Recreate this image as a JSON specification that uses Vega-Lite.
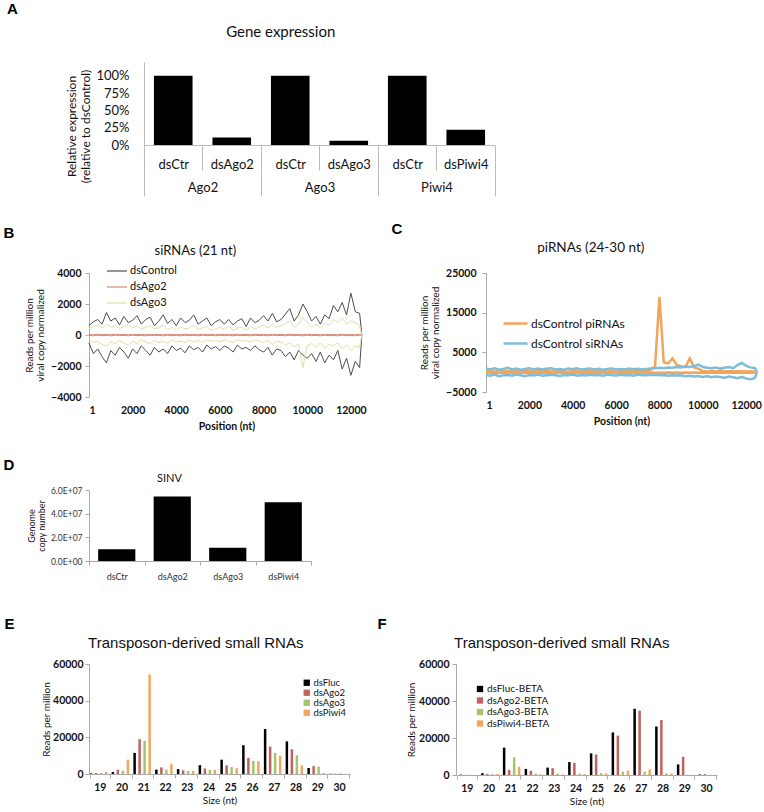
{
"$schema": "https://vega.github.io/schema/vega-lite/v6.json",
"background": "white",
"padding": {"left": 3, "top": 2, "right": 0, "bottom": 0},
"config": {
  "view": {"stroke": null},
  "font": "Lato",
  "axis": {"labelFont": "Lato", "titleFont": "Lato", "labelColor": "#111", "titleColor": "#111", "domainColor": "#aaaaaa", "tickColor": "#aaaaaa", "grid": false, "titleFontWeight": "normal", "labelOverlap": false},
  "legend": {"labelFont": "Lato", "labelColor": "#111"},
  "title": {"font": "Lato", "color": "#111", "fontWeight": "normal"}
},
"columns": 1, "align": "none", "spacing": 26,
"resolve": {"scale": {"color": "independent"}, "legend": {"color": "independent"}},
"concat": [
 {"columns": 1, "align": "none", "spacing": 24, "resolve": {"scale": {"color": "independent"}, "legend": {"color": "independent"}}, "concat": [
  {"title": {"text": "A", "anchor": "start", "frame": "bounds", "font": "Liberation Sans", "fontSize": 15, "fontWeight": "bold", "color": "#000", "dx": -59, "offset": 8},
   "vconcat": [{
    "width": 406, "height": 83,
    "title": {"text": "Gene expression", "frame": "bounds", "anchor": "middle", "fontSize": 15, "offset": 22},
    "data": {"values": [
      {"group": "Ago2", "cond": "dsCtr", "key": "Ago2|dsCtr", "value": 1.0},
      {"group": "Ago2", "cond": "dsAgo2", "key": "Ago2|dsAgo2", "value": 0.11},
      {"group": "Ago3", "cond": "dsCtr", "key": "Ago3|dsCtr", "value": 1.0},
      {"group": "Ago3", "cond": "dsAgo3", "key": "Ago3|dsAgo3", "value": 0.06},
      {"group": "Piwi4", "cond": "dsCtr", "key": "Piwi4|dsCtr", "value": 1.0},
      {"group": "Piwi4", "cond": "dsPiwi4", "key": "Piwi4|dsPiwi4", "value": 0.22}
    ]},
    "layer": [
     {"mark": {"type": "bar", "color": "#000", "width": {"band": 0.66}},
      "encoding": {
       "x": {"field": "key", "type": "nominal", "sort": null, "scale": {"paddingInner": 0, "paddingOuter": 0.47, "align": 1},
             "axis": {"title": null, "labelExpr": "split(datum.value, '|')[1]", "labelAngle": 0, "tickBand": "extent", "tickSize": 25, "tickColor": "#bbbbbb", "domain": false, "labelPadding": -12, "labelFontSize": 13}},
       "y": {"field": "value", "type": "quantitative", "scale": {"domain": [0, 1.2], "nice": false},
             "axis": {"values": [0, 0.25, 0.5, 0.75, 1], "format": ".0%", "labelOverlap": false, "offset": -55, "ticks": false, "domainColor": "#bbbbbb", "labelFontSize": 13, "labelPadding": 15, "title": ["Relative expression", "(relative to dsControl)"], "titleFontSize": 12, "titleLineHeight": 14, "titlePadding": 3, "titleY": 64, "titleAlign": "center"}}
      }},
     {"mark": {"type": "bar", "color": "#bbbbbb", "width": {"band": 1}},
      "encoding": {
       "x": {"field": "key", "type": "nominal", "sort": null, "scale": {"paddingInner": 0, "paddingOuter": 0.47, "align": 1}, "axis": null},
       "y": {"datum": 0, "type": "quantitative",
             "axis": {"values": [0, 0.25, 0.5, 0.75, 1], "format": ".0%", "labelOverlap": false, "offset": -55, "ticks": false, "domainColor": "#bbbbbb", "labelFontSize": 13, "labelPadding": 15, "title": ["Relative expression", "(relative to dsControl)"], "titleFontSize": 12, "titleLineHeight": 14, "titlePadding": 3, "titleY": 64, "titleAlign": "center"}},
       "y2": {"datum": -0.015}
      }},
     {"mark": {"type": "tick", "opacity": 0},
      "encoding": {
       "x": {"field": "group", "type": "nominal", "sort": null, "scale": {"paddingInner": 0, "paddingOuter": 0.235, "align": 1},
             "axis": {"orient": "bottom", "offset": 25, "title": null, "labelAngle": 0, "tickBand": "extent", "tickSize": 26, "tickColor": "#bbbbbb", "domain": false, "labelPadding": -15, "labelFontSize": 13}}
      }}
    ],
    "resolve": {"scale": {"x": "independent"}}
   }]
  },
  {"columns": 2, "align": "none", "spacing": 24, "resolve": {"scale": {"color": "independent"}, "legend": {"color": "independent"}}, "concat": [
   {"title": {"text": "B", "anchor": "start", "frame": "bounds", "font": "Liberation Sans", "fontSize": 15, "fontWeight": "bold", "color": "#000", "dx": -21, "offset": 4},
    "vconcat": [{
     "width": 275, "height": 124,
     "title": {"text": "siRNAs (21 nt)", "frame": "bounds", "fontSize": 13, "offset": 10},
     "data": {"values": [
{"pos":1,"strand":"s","dsControl":600,"dsAgo2":40,"dsAgo3":400},
{"pos":200,"strand":"s","dsControl":850,"dsAgo2":20,"dsAgo3":550},
{"pos":400,"strand":"s","dsControl":1000,"dsAgo2":50,"dsAgo3":650},
{"pos":600,"strand":"s","dsControl":700,"dsAgo2":30,"dsAgo3":450},
{"pos":800,"strand":"s","dsControl":1450,"dsAgo2":40,"dsAgo3":700},
{"pos":1000,"strand":"s","dsControl":900,"dsAgo2":20,"dsAgo3":500},
{"pos":1200,"strand":"s","dsControl":1100,"dsAgo2":50,"dsAgo3":600},
{"pos":1400,"strand":"s","dsControl":650,"dsAgo2":30,"dsAgo3":400},
{"pos":1600,"strand":"s","dsControl":1200,"dsAgo2":40,"dsAgo3":550},
{"pos":1800,"strand":"s","dsControl":800,"dsAgo2":20,"dsAgo3":700},
{"pos":2000,"strand":"s","dsControl":950,"dsAgo2":50,"dsAgo3":450},
{"pos":2200,"strand":"s","dsControl":1250,"dsAgo2":30,"dsAgo3":600},
{"pos":2400,"strand":"s","dsControl":700,"dsAgo2":40,"dsAgo3":350},
{"pos":2600,"strand":"s","dsControl":1000,"dsAgo2":20,"dsAgo3":500},
{"pos":2800,"strand":"s","dsControl":1150,"dsAgo2":50,"dsAgo3":600},
{"pos":3000,"strand":"s","dsControl":600,"dsAgo2":30,"dsAgo3":400},
{"pos":3200,"strand":"s","dsControl":900,"dsAgo2":40,"dsAgo3":450},
{"pos":3400,"strand":"s","dsControl":1300,"dsAgo2":20,"dsAgo3":650},
{"pos":3600,"strand":"s","dsControl":750,"dsAgo2":50,"dsAgo3":350},
{"pos":3800,"strand":"s","dsControl":1000,"dsAgo2":30,"dsAgo3":500},
{"pos":4000,"strand":"s","dsControl":600,"dsAgo2":40,"dsAgo3":300},
{"pos":4200,"strand":"s","dsControl":1100,"dsAgo2":20,"dsAgo3":550},
{"pos":4400,"strand":"s","dsControl":800,"dsAgo2":50,"dsAgo3":400},
{"pos":4600,"strand":"s","dsControl":950,"dsAgo2":30,"dsAgo3":450},
{"pos":4800,"strand":"s","dsControl":1300,"dsAgo2":40,"dsAgo3":650},
{"pos":5000,"strand":"s","dsControl":700,"dsAgo2":20,"dsAgo3":350},
{"pos":5200,"strand":"s","dsControl":900,"dsAgo2":50,"dsAgo3":450},
{"pos":5400,"strand":"s","dsControl":1100,"dsAgo2":30,"dsAgo3":550},
{"pos":5600,"strand":"s","dsControl":600,"dsAgo2":40,"dsAgo3":300},
{"pos":5800,"strand":"s","dsControl":850,"dsAgo2":20,"dsAgo3":400},
{"pos":6000,"strand":"s","dsControl":1000,"dsAgo2":50,"dsAgo3":500},
{"pos":6200,"strand":"s","dsControl":700,"dsAgo2":30,"dsAgo3":350},
{"pos":6400,"strand":"s","dsControl":1000,"dsAgo2":40,"dsAgo3":550},
{"pos":6600,"strand":"s","dsControl":650,"dsAgo2":20,"dsAgo3":300},
{"pos":6800,"strand":"s","dsControl":900,"dsAgo2":50,"dsAgo3":450},
{"pos":7000,"strand":"s","dsControl":1050,"dsAgo2":30,"dsAgo3":500},
{"pos":7200,"strand":"s","dsControl":550,"dsAgo2":40,"dsAgo3":300},
{"pos":7400,"strand":"s","dsControl":1100,"dsAgo2":20,"dsAgo3":550},
{"pos":7600,"strand":"s","dsControl":800,"dsAgo2":50,"dsAgo3":400},
{"pos":7800,"strand":"s","dsControl":950,"dsAgo2":30,"dsAgo3":500},
{"pos":8000,"strand":"s","dsControl":1250,"dsAgo2":40,"dsAgo3":650},
{"pos":8200,"strand":"s","dsControl":900,"dsAgo2":20,"dsAgo3":450},
{"pos":8400,"strand":"s","dsControl":1400,"dsAgo2":50,"dsAgo3":700},
{"pos":8600,"strand":"s","dsControl":850,"dsAgo2":30,"dsAgo3":500},
{"pos":8800,"strand":"s","dsControl":1000,"dsAgo2":40,"dsAgo3":600},
{"pos":9000,"strand":"s","dsControl":1350,"dsAgo2":20,"dsAgo3":750},
{"pos":9200,"strand":"s","dsControl":1700,"dsAgo2":50,"dsAgo3":900},
{"pos":9400,"strand":"s","dsControl":900,"dsAgo2":30,"dsAgo3":500},
{"pos":9600,"strand":"s","dsControl":1300,"dsAgo2":40,"dsAgo3":700},
{"pos":9800,"strand":"s","dsControl":2000,"dsAgo2":20,"dsAgo3":1100},
{"pos":10000,"strand":"s","dsControl":1500,"dsAgo2":50,"dsAgo3":800},
{"pos":10200,"strand":"s","dsControl":900,"dsAgo2":30,"dsAgo3":500},
{"pos":10400,"strand":"s","dsControl":1200,"dsAgo2":40,"dsAgo3":700},
{"pos":10600,"strand":"s","dsControl":700,"dsAgo2":20,"dsAgo3":450},
{"pos":10800,"strand":"s","dsControl":1300,"dsAgo2":50,"dsAgo3":750},
{"pos":11000,"strand":"s","dsControl":1050,"dsAgo2":30,"dsAgo3":650},
{"pos":11200,"strand":"s","dsControl":1900,"dsAgo2":40,"dsAgo3":1000},
{"pos":11400,"strand":"s","dsControl":1500,"dsAgo2":20,"dsAgo3":800},
{"pos":11600,"strand":"s","dsControl":2100,"dsAgo2":50,"dsAgo3":1100},
{"pos":11800,"strand":"s","dsControl":1300,"dsAgo2":30,"dsAgo3":700},
{"pos":12000,"strand":"s","dsControl":2700,"dsAgo2":40,"dsAgo3":900},
{"pos":12200,"strand":"s","dsControl":1500,"dsAgo2":20,"dsAgo3":800},
{"pos":12400,"strand":"s","dsControl":1400,"dsAgo2":50,"dsAgo3":600},
{"pos":12500,"strand":"s","dsControl":0,"dsAgo2":0,"dsAgo3":0},
{"pos":1,"strand":"a","dsControl":-500,"dsAgo2":-30,"dsAgo3":-300},
{"pos":200,"strand":"a","dsControl":-1200,"dsAgo2":-50,"dsAgo3":-500},
{"pos":400,"strand":"a","dsControl":-900,"dsAgo2":-20,"dsAgo3":-400},
{"pos":600,"strand":"a","dsControl":-1400,"dsAgo2":-40,"dsAgo3":-600},
{"pos":800,"strand":"a","dsControl":-1800,"dsAgo2":-30,"dsAgo3":-700},
{"pos":1000,"strand":"a","dsControl":-1000,"dsAgo2":-50,"dsAgo3":-450},
{"pos":1200,"strand":"a","dsControl":-1300,"dsAgo2":-20,"dsAgo3":-550},
{"pos":1400,"strand":"a","dsControl":-800,"dsAgo2":-40,"dsAgo3":-350},
{"pos":1600,"strand":"a","dsControl":-1100,"dsAgo2":-30,"dsAgo3":-500},
{"pos":1800,"strand":"a","dsControl":-1500,"dsAgo2":-50,"dsAgo3":-650},
{"pos":2000,"strand":"a","dsControl":-900,"dsAgo2":-20,"dsAgo3":-400},
{"pos":2200,"strand":"a","dsControl":-1200,"dsAgo2":-40,"dsAgo3":-550},
{"pos":2400,"strand":"a","dsControl":-700,"dsAgo2":-30,"dsAgo3":-300},
{"pos":2600,"strand":"a","dsControl":-1000,"dsAgo2":-50,"dsAgo3":-450},
{"pos":2800,"strand":"a","dsControl":-1300,"dsAgo2":-20,"dsAgo3":-550},
{"pos":3000,"strand":"a","dsControl":-800,"dsAgo2":-40,"dsAgo3":-350},
{"pos":3200,"strand":"a","dsControl":-1100,"dsAgo2":-30,"dsAgo3":-500},
{"pos":3400,"strand":"a","dsControl":-900,"dsAgo2":-50,"dsAgo3":-400},
{"pos":3600,"strand":"a","dsControl":-1200,"dsAgo2":-20,"dsAgo3":-550},
{"pos":3800,"strand":"a","dsControl":-700,"dsAgo2":-40,"dsAgo3":-300},
{"pos":4000,"strand":"a","dsControl":-1000,"dsAgo2":-30,"dsAgo3":-450},
{"pos":4200,"strand":"a","dsControl":-850,"dsAgo2":-50,"dsAgo3":-400},
{"pos":4400,"strand":"a","dsControl":-1150,"dsAgo2":-20,"dsAgo3":-500},
{"pos":4600,"strand":"a","dsControl":-700,"dsAgo2":-40,"dsAgo3":-300},
{"pos":4800,"strand":"a","dsControl":-950,"dsAgo2":-30,"dsAgo3":-450},
{"pos":5000,"strand":"a","dsControl":-800,"dsAgo2":-50,"dsAgo3":-350},
{"pos":5200,"strand":"a","dsControl":-1100,"dsAgo2":-20,"dsAgo3":-500},
{"pos":5400,"strand":"a","dsControl":-650,"dsAgo2":-40,"dsAgo3":-300},
{"pos":5600,"strand":"a","dsControl":-900,"dsAgo2":-30,"dsAgo3":-400},
{"pos":5800,"strand":"a","dsControl":-750,"dsAgo2":-50,"dsAgo3":-350},
{"pos":6000,"strand":"a","dsControl":-1000,"dsAgo2":-20,"dsAgo3":-450},
{"pos":6200,"strand":"a","dsControl":-700,"dsAgo2":-40,"dsAgo3":-300},
{"pos":6400,"strand":"a","dsControl":-850,"dsAgo2":-30,"dsAgo3":-400},
{"pos":6600,"strand":"a","dsControl":-1100,"dsAgo2":-50,"dsAgo3":-500},
{"pos":6800,"strand":"a","dsControl":-650,"dsAgo2":-20,"dsAgo3":-300},
{"pos":7000,"strand":"a","dsControl":-900,"dsAgo2":-40,"dsAgo3":-400},
{"pos":7200,"strand":"a","dsControl":-800,"dsAgo2":-30,"dsAgo3":-350},
{"pos":7400,"strand":"a","dsControl":-1000,"dsAgo2":-50,"dsAgo3":-450},
{"pos":7600,"strand":"a","dsControl":-700,"dsAgo2":-20,"dsAgo3":-300},
{"pos":7800,"strand":"a","dsControl":-950,"dsAgo2":-40,"dsAgo3":-400},
{"pos":8000,"strand":"a","dsControl":-1100,"dsAgo2":-30,"dsAgo3":-500},
{"pos":8200,"strand":"a","dsControl":-800,"dsAgo2":-50,"dsAgo3":-350},
{"pos":8400,"strand":"a","dsControl":-1300,"dsAgo2":-20,"dsAgo3":-600},
{"pos":8600,"strand":"a","dsControl":-900,"dsAgo2":-40,"dsAgo3":-400},
{"pos":8800,"strand":"a","dsControl":-1000,"dsAgo2":-30,"dsAgo3":-450},
{"pos":9000,"strand":"a","dsControl":-1400,"dsAgo2":-50,"dsAgo3":-650},
{"pos":9200,"strand":"a","dsControl":-1100,"dsAgo2":-20,"dsAgo3":-500},
{"pos":9400,"strand":"a","dsControl":-1600,"dsAgo2":-40,"dsAgo3":-750},
{"pos":9600,"strand":"a","dsControl":-1000,"dsAgo2":-30,"dsAgo3":-600},
{"pos":9800,"strand":"a","dsControl":-1300,"dsAgo2":-50,"dsAgo3":-2100},
{"pos":10000,"strand":"a","dsControl":-1500,"dsAgo2":-20,"dsAgo3":-700},
{"pos":10200,"strand":"a","dsControl":-1200,"dsAgo2":-40,"dsAgo3":-550},
{"pos":10400,"strand":"a","dsControl":-1700,"dsAgo2":-30,"dsAgo3":-800},
{"pos":10600,"strand":"a","dsControl":-1100,"dsAgo2":-50,"dsAgo3":-500},
{"pos":10800,"strand":"a","dsControl":-1800,"dsAgo2":-20,"dsAgo3":-850},
{"pos":11000,"strand":"a","dsControl":-1300,"dsAgo2":-40,"dsAgo3":-600},
{"pos":11200,"strand":"a","dsControl":-1600,"dsAgo2":-30,"dsAgo3":-700},
{"pos":11400,"strand":"a","dsControl":-1000,"dsAgo2":-50,"dsAgo3":-500},
{"pos":11600,"strand":"a","dsControl":-2200,"dsAgo2":-20,"dsAgo3":-900},
{"pos":11800,"strand":"a","dsControl":-1500,"dsAgo2":-40,"dsAgo3":-650},
{"pos":12000,"strand":"a","dsControl":-2600,"dsAgo2":-30,"dsAgo3":-1000},
{"pos":12200,"strand":"a","dsControl":-1700,"dsAgo2":-50,"dsAgo3":-700},
{"pos":12400,"strand":"a","dsControl":-2100,"dsAgo2":-20,"dsAgo3":-800},
{"pos":12500,"strand":"a","dsControl":0,"dsAgo2":0,"dsAgo3":0}
     ]},
     "transform": [{"fold": ["dsControl", "dsAgo2", "dsAgo3"], "as": ["series", "value"]}],
     "mark": {"type": "line", "strokeWidth": 1},
     "encoding": {
      "x": {"field": "pos", "type": "quantitative", "scale": {"domain": [1, 12600], "nice": false, "zero": false},
            "axis": {"values": [1, 2000, 4000, 6000, 8000, 10000, 12000], "format": "d", "domain": false, "ticks": false, "labelPadding": 8, "labelFontSize": 10.5, "labelFontWeight": "bold", "title": "Position (nt)", "titleFontSize": 10.5, "titleFontWeight": "bold", "titlePadding": 6}},
      "y": {"field": "value", "type": "quantitative", "scale": {"domain": [-4000, 4000], "nice": false},
            "axis": {"values": [-4000, -2000, 0, 2000, 4000], "format": "d", "tickSize": 4, "labelPadding": 4, "labelFontSize": 10.5, "labelFontWeight": "bold", "title": ["Reads per million", "viral copy normalized"], "titleFontSize": 10, "titleLineHeight": 11, "titlePadding": 5}},
      "color": {"field": "series", "type": "nominal", "scale": {"domain": ["dsControl", "dsAgo2", "dsAgo3"], "range": ["#4d4d4d", "#d98a78", "#e0dfa6"]},
            "legend": {"orient": "none", "legendX": 17, "legendY": -13, "title": null, "symbolType": "stroke", "symbolSize": 400, "symbolStrokeWidth": 1.2, "labelFontSize": 11, "rowPadding": -4, "padding": 0, "labelOffset": 2}},
      "detail": {"field": "strand", "type": "nominal"}
     }
    }]
   },
   {"title": {"text": "C", "anchor": "start", "frame": "bounds", "font": "Liberation Sans", "fontSize": 15, "fontWeight": "bold", "color": "#000", "dx": -28, "offset": 4},
    "vconcat": [{
     "width": 271, "height": 119,
     "title": {"text": "piRNAs (24-30 nt)", "frame": "bounds", "fontSize": 13.5, "offset": 14},
     "data": {"values": [
{"pos":1,"strand":"s","dsControl piRNAs":200,"dsControl siRNAs":900},
{"pos":200,"strand":"s","dsControl piRNAs":300,"dsControl siRNAs":700},
{"pos":400,"strand":"s","dsControl piRNAs":100,"dsControl siRNAs":1000},
{"pos":600,"strand":"s","dsControl piRNAs":400,"dsControl siRNAs":600},
{"pos":800,"strand":"s","dsControl piRNAs":200,"dsControl siRNAs":800},
{"pos":1000,"strand":"s","dsControl piRNAs":300,"dsControl siRNAs":1100},
{"pos":1200,"strand":"s","dsControl piRNAs":150,"dsControl siRNAs":700},
{"pos":1400,"strand":"s","dsControl piRNAs":350,"dsControl siRNAs":900},
{"pos":1600,"strand":"s","dsControl piRNAs":200,"dsControl siRNAs":600},
{"pos":1800,"strand":"s","dsControl piRNAs":250,"dsControl siRNAs":800},
{"pos":2000,"strand":"s","dsControl piRNAs":300,"dsControl siRNAs":1000},
{"pos":2200,"strand":"s","dsControl piRNAs":100,"dsControl siRNAs":700},
{"pos":2400,"strand":"s","dsControl piRNAs":300,"dsControl siRNAs":900},
{"pos":2600,"strand":"s","dsControl piRNAs":200,"dsControl siRNAs":650},
{"pos":2800,"strand":"s","dsControl piRNAs":350,"dsControl siRNAs":850},
{"pos":3000,"strand":"s","dsControl piRNAs":150,"dsControl siRNAs":1000},
{"pos":3200,"strand":"s","dsControl piRNAs":250,"dsControl siRNAs":700},
{"pos":3400,"strand":"s","dsControl piRNAs":300,"dsControl siRNAs":800},
{"pos":3600,"strand":"s","dsControl piRNAs":200,"dsControl siRNAs":600},
{"pos":3800,"strand":"s","dsControl piRNAs":100,"dsControl siRNAs":900},
{"pos":4000,"strand":"s","dsControl piRNAs":300,"dsControl siRNAs":750},
{"pos":4200,"strand":"s","dsControl piRNAs":250,"dsControl siRNAs":1000},
{"pos":4400,"strand":"s","dsControl piRNAs":150,"dsControl siRNAs":650},
{"pos":4600,"strand":"s","dsControl piRNAs":350,"dsControl siRNAs":800},
{"pos":4800,"strand":"s","dsControl piRNAs":200,"dsControl siRNAs":900},
{"pos":5000,"strand":"s","dsControl piRNAs":300,"dsControl siRNAs":700},
{"pos":5200,"strand":"s","dsControl piRNAs":150,"dsControl siRNAs":850},
{"pos":5400,"strand":"s","dsControl piRNAs":250,"dsControl siRNAs":600},
{"pos":5600,"strand":"s","dsControl piRNAs":200,"dsControl siRNAs":800},
{"pos":5800,"strand":"s","dsControl piRNAs":300,"dsControl siRNAs":950},
{"pos":6000,"strand":"s","dsControl piRNAs":100,"dsControl siRNAs":700},
{"pos":6200,"strand":"s","dsControl piRNAs":250,"dsControl siRNAs":800},
{"pos":6400,"strand":"s","dsControl piRNAs":300,"dsControl siRNAs":650},
{"pos":6600,"strand":"s","dsControl piRNAs":200,"dsControl siRNAs":900},
{"pos":6800,"strand":"s","dsControl piRNAs":150,"dsControl siRNAs":750},
{"pos":7000,"strand":"s","dsControl piRNAs":300,"dsControl siRNAs":850},
{"pos":7200,"strand":"s","dsControl piRNAs":250,"dsControl siRNAs":700},
{"pos":7400,"strand":"s","dsControl piRNAs":200,"dsControl siRNAs":800},
{"pos":7600,"strand":"s","dsControl piRNAs":600,"dsControl siRNAs":900},
{"pos":7800,"strand":"s","dsControl piRNAs":1500,"dsControl siRNAs":1000},
{"pos":8000,"strand":"s","dsControl piRNAs":19000,"dsControl siRNAs":1100},
{"pos":8200,"strand":"s","dsControl piRNAs":2500,"dsControl siRNAs":1000},
{"pos":8400,"strand":"s","dsControl piRNAs":2200,"dsControl siRNAs":1200},
{"pos":8600,"strand":"s","dsControl piRNAs":3500,"dsControl siRNAs":1100},
{"pos":8800,"strand":"s","dsControl piRNAs":1800,"dsControl siRNAs":1300},
{"pos":9000,"strand":"s","dsControl piRNAs":1500,"dsControl siRNAs":1200},
{"pos":9200,"strand":"s","dsControl piRNAs":1300,"dsControl siRNAs":1400},
{"pos":9400,"strand":"s","dsControl piRNAs":3500,"dsControl siRNAs":1300},
{"pos":9600,"strand":"s","dsControl piRNAs":1200,"dsControl siRNAs":1500},
{"pos":9800,"strand":"s","dsControl piRNAs":900,"dsControl siRNAs":1900},
{"pos":10000,"strand":"s","dsControl piRNAs":300,"dsControl siRNAs":1300},
{"pos":10200,"strand":"s","dsControl piRNAs":200,"dsControl siRNAs":1100},
{"pos":10400,"strand":"s","dsControl piRNAs":300,"dsControl siRNAs":1000},
{"pos":10600,"strand":"s","dsControl piRNAs":150,"dsControl siRNAs":1200},
{"pos":10800,"strand":"s","dsControl piRNAs":250,"dsControl siRNAs":900},
{"pos":11000,"strand":"s","dsControl piRNAs":200,"dsControl siRNAs":1100},
{"pos":11200,"strand":"s","dsControl piRNAs":300,"dsControl siRNAs":1300},
{"pos":11400,"strand":"s","dsControl piRNAs":150,"dsControl siRNAs":1000},
{"pos":11600,"strand":"s","dsControl piRNAs":200,"dsControl siRNAs":1800},
{"pos":11800,"strand":"s","dsControl piRNAs":250,"dsControl siRNAs":2300},
{"pos":12000,"strand":"s","dsControl piRNAs":150,"dsControl siRNAs":1600},
{"pos":12200,"strand":"s","dsControl piRNAs":200,"dsControl siRNAs":1200},
{"pos":12400,"strand":"s","dsControl piRNAs":100,"dsControl siRNAs":1000},
{"pos":12500,"strand":"s","dsControl piRNAs":0,"dsControl siRNAs":0},
{"pos":1,"strand":"a","dsControl piRNAs":-100,"dsControl siRNAs":-700},
{"pos":200,"strand":"a","dsControl piRNAs":-150,"dsControl siRNAs":-900},
{"pos":400,"strand":"a","dsControl piRNAs":-60,"dsControl siRNAs":-600},
{"pos":600,"strand":"a","dsControl piRNAs":-120,"dsControl siRNAs":-1000},
{"pos":800,"strand":"a","dsControl piRNAs":-100,"dsControl siRNAs":-800},
{"pos":1000,"strand":"a","dsControl piRNAs":-150,"dsControl siRNAs":-700},
{"pos":1200,"strand":"a","dsControl piRNAs":-60,"dsControl siRNAs":-900},
{"pos":1400,"strand":"a","dsControl piRNAs":-120,"dsControl siRNAs":-600},
{"pos":1600,"strand":"a","dsControl piRNAs":-100,"dsControl siRNAs":-800},
{"pos":1800,"strand":"a","dsControl piRNAs":-150,"dsControl siRNAs":-1000},
{"pos":2000,"strand":"a","dsControl piRNAs":-60,"dsControl siRNAs":-700},
{"pos":2200,"strand":"a","dsControl piRNAs":-120,"dsControl siRNAs":-850},
{"pos":2400,"strand":"a","dsControl piRNAs":-100,"dsControl siRNAs":-600},
{"pos":2600,"strand":"a","dsControl piRNAs":-150,"dsControl siRNAs":-900},
{"pos":2800,"strand":"a","dsControl piRNAs":-60,"dsControl siRNAs":-750},
{"pos":3000,"strand":"a","dsControl piRNAs":-120,"dsControl siRNAs":-650},
{"pos":3200,"strand":"a","dsControl piRNAs":-100,"dsControl siRNAs":-800},
{"pos":3400,"strand":"a","dsControl piRNAs":-150,"dsControl siRNAs":-950},
{"pos":3600,"strand":"a","dsControl piRNAs":-60,"dsControl siRNAs":-700},
{"pos":3800,"strand":"a","dsControl piRNAs":-120,"dsControl siRNAs":-800},
{"pos":4000,"strand":"a","dsControl piRNAs":-100,"dsControl siRNAs":-600},
{"pos":4200,"strand":"a","dsControl piRNAs":-150,"dsControl siRNAs":-900},
{"pos":4400,"strand":"a","dsControl piRNAs":-60,"dsControl siRNAs":-700},
{"pos":4600,"strand":"a","dsControl piRNAs":-120,"dsControl siRNAs":-850},
{"pos":4800,"strand":"a","dsControl piRNAs":-100,"dsControl siRNAs":-650},
{"pos":5000,"strand":"a","dsControl piRNAs":-150,"dsControl siRNAs":-800},
{"pos":5200,"strand":"a","dsControl piRNAs":-60,"dsControl siRNAs":-700},
{"pos":5400,"strand":"a","dsControl piRNAs":-120,"dsControl siRNAs":-900},
{"pos":5600,"strand":"a","dsControl piRNAs":-100,"dsControl siRNAs":-600},
{"pos":5800,"strand":"a","dsControl piRNAs":-150,"dsControl siRNAs":-750},
{"pos":6000,"strand":"a","dsControl piRNAs":-60,"dsControl siRNAs":-850},
{"pos":6200,"strand":"a","dsControl piRNAs":-120,"dsControl siRNAs":-650},
{"pos":6400,"strand":"a","dsControl piRNAs":-100,"dsControl siRNAs":-800},
{"pos":6600,"strand":"a","dsControl piRNAs":-150,"dsControl siRNAs":-700},
{"pos":6800,"strand":"a","dsControl piRNAs":-60,"dsControl siRNAs":-900},
{"pos":7000,"strand":"a","dsControl piRNAs":-120,"dsControl siRNAs":-600},
{"pos":7200,"strand":"a","dsControl piRNAs":-100,"dsControl siRNAs":-750},
{"pos":7400,"strand":"a","dsControl piRNAs":-150,"dsControl siRNAs":-800},
{"pos":7600,"strand":"a","dsControl piRNAs":-60,"dsControl siRNAs":-700},
{"pos":7800,"strand":"a","dsControl piRNAs":-120,"dsControl siRNAs":-650},
{"pos":8000,"strand":"a","dsControl piRNAs":-100,"dsControl siRNAs":-800},
{"pos":8200,"strand":"a","dsControl piRNAs":-150,"dsControl siRNAs":-700},
{"pos":8400,"strand":"a","dsControl piRNAs":-60,"dsControl siRNAs":-900},
{"pos":8600,"strand":"a","dsControl piRNAs":-120,"dsControl siRNAs":-750},
{"pos":8800,"strand":"a","dsControl piRNAs":-100,"dsControl siRNAs":-850},
{"pos":9000,"strand":"a","dsControl piRNAs":-150,"dsControl siRNAs":-800},
{"pos":9200,"strand":"a","dsControl piRNAs":-60,"dsControl siRNAs":-1000},
{"pos":9400,"strand":"a","dsControl piRNAs":-120,"dsControl siRNAs":-900},
{"pos":9600,"strand":"a","dsControl piRNAs":-100,"dsControl siRNAs":-1100},
{"pos":9800,"strand":"a","dsControl piRNAs":-150,"dsControl siRNAs":-1000},
{"pos":10000,"strand":"a","dsControl piRNAs":-60,"dsControl siRNAs":-1200},
{"pos":10200,"strand":"a","dsControl piRNAs":-120,"dsControl siRNAs":-1000},
{"pos":10400,"strand":"a","dsControl piRNAs":-100,"dsControl siRNAs":-1300},
{"pos":10600,"strand":"a","dsControl piRNAs":-150,"dsControl siRNAs":-1100},
{"pos":10800,"strand":"a","dsControl piRNAs":-60,"dsControl siRNAs":-1200},
{"pos":11000,"strand":"a","dsControl piRNAs":-120,"dsControl siRNAs":-1400},
{"pos":11200,"strand":"a","dsControl piRNAs":-100,"dsControl siRNAs":-1100},
{"pos":11400,"strand":"a","dsControl piRNAs":-150,"dsControl siRNAs":-1300},
{"pos":11600,"strand":"a","dsControl piRNAs":-60,"dsControl siRNAs":-1500},
{"pos":11800,"strand":"a","dsControl piRNAs":-120,"dsControl siRNAs":-1200},
{"pos":12000,"strand":"a","dsControl piRNAs":-100,"dsControl siRNAs":-1600},
{"pos":12200,"strand":"a","dsControl piRNAs":-150,"dsControl siRNAs":-1800},
{"pos":12400,"strand":"a","dsControl piRNAs":-60,"dsControl siRNAs":-1500},
{"pos":12500,"strand":"a","dsControl piRNAs":0,"dsControl siRNAs":0}
     ]},
     "transform": [{"fold": ["dsControl piRNAs", "dsControl siRNAs"], "as": ["series", "value"]}],
     "mark": {"type": "line", "strokeWidth": 2.5},
     "encoding": {
      "x": {"field": "pos", "type": "quantitative", "scale": {"domain": [1, 12500], "nice": false, "zero": false},
            "axis": {"values": [1, 2000, 4000, 6000, 8000, 10000, 12000], "format": "d", "domain": false, "ticks": false, "labelPadding": 8, "labelFontSize": 10.5, "labelFontWeight": "bold", "title": "Position (nt)", "titleFontSize": 10.5, "titleFontWeight": "bold", "titlePadding": 6}},
      "y": {"field": "value", "type": "quantitative", "scale": {"domain": [-5000, 25000], "nice": false},
            "axis": {"values": [-5000, 5000, 15000, 25000], "format": "d", "tickSize": 4, "labelPadding": 6, "labelFontSize": 10.5, "labelFontWeight": "bold", "title": ["Reads per million", "viral copy normalized"], "titleFontSize": 10, "titleLineHeight": 11, "titlePadding": 5}},
      "color": {"field": "series", "type": "nominal", "scale": {"domain": ["dsControl piRNAs", "dsControl siRNAs"], "range": ["#f0a55a", "#7fbcd8"]},
            "legend": {"orient": "none", "legendX": 16, "legendY": 37, "title": null, "symbolType": "stroke", "symbolSize": 576, "symbolStrokeWidth": 2.5, "labelFontSize": 12, "rowPadding": -2, "padding": 0, "labelOffset": 2}},
      "detail": {"field": "strand", "type": "nominal"}
     }
    }]
   }
  ]}
 ]},
 {"columns": 1, "align": "none", "spacing": 36, "resolve": {"scale": {"color": "independent"}, "legend": {"color": "independent"}}, "concat": [
  {"title": {"text": "D", "anchor": "start", "frame": "bounds", "font": "Liberation Sans", "fontSize": 15, "fontWeight": "bold", "color": "#000", "dx": -24, "offset": 0},
   "vconcat": [{
    "width": 222, "height": 71,
    "title": {"text": "SINV", "frame": "bounds", "fontSize": 11, "offset": 2},
    "data": {"values": [
      {"c": "dsCtr", "v": 10000000},
      {"c": "dsAgo2", "v": 54500000},
      {"c": "dsAgo3", "v": 11200000},
      {"c": "dsPiwi4", "v": 49700000}
    ]},
    "mark": {"type": "bar", "color": "#000", "width": {"band": 0.67}},
    "encoding": {
     "x": {"field": "c", "type": "nominal", "sort": null, "scale": {"paddingInner": 0, "paddingOuter": 0},
           "axis": {"title": null, "labelAngle": 0, "tickBand": "extent", "tickSize": 4, "labelPadding": 7, "labelFontSize": 9, "labelColor": "#333"}},
     "y": {"field": "v", "type": "quantitative", "scale": {"domain": [0, 60000000], "nice": false},
           "axis": {"values": [0, 20000000, 40000000, 60000000], "labelExpr": "datum.value == 0 ? '0.0E+00' : format(datum.value / 10000000, '.1f') + 'E+07'", "tickSize": 4, "labelPadding": 3, "labelFontSize": 8.5, "labelColor": "#333", "title": ["Genome", "copy number"], "titleFontSize": 9, "titleLineHeight": 10, "titlePadding": 4}}
    }
   }]
  },
  {"columns": 2, "align": "none", "spacing": 27, "resolve": {"scale": {"color": "independent"}, "legend": {"color": "independent"}}, "concat": [
   {"title": {"text": "E", "anchor": "start", "frame": "bounds", "font": "Liberation Sans", "fontSize": 15, "fontWeight": "bold", "color": "#000", "dx": -37, "offset": 4},
    "vconcat": [{
     "width": 261, "height": 110,
     "title": {"text": "Transposon-derived small RNAs", "font": "Liberation Sans", "fontSize": 15, "frame": "bounds", "offset": 8},
     "data": {"values": [
      {"size": 19, "dsFluc": 300, "dsAgo2": 500, "dsAgo3": 500, "dsPiwi4": 1200},
      {"size": 20, "dsFluc": 1100, "dsAgo2": 2400, "dsAgo3": 1800, "dsPiwi4": 7800},
      {"size": 21, "dsFluc": 11500, "dsAgo2": 19000, "dsAgo3": 18100, "dsPiwi4": 54300},
      {"size": 22, "dsFluc": 2400, "dsAgo2": 3600, "dsAgo3": 2400, "dsPiwi4": 5600},
      {"size": 23, "dsFluc": 2700, "dsAgo2": 2000, "dsAgo3": 1600, "dsPiwi4": 1700},
      {"size": 24, "dsFluc": 4800, "dsAgo2": 3000, "dsAgo3": 2300, "dsPiwi4": 2300},
      {"size": 25, "dsFluc": 7800, "dsAgo2": 4700, "dsAgo3": 3800, "dsPiwi4": 3200},
      {"size": 26, "dsFluc": 15700, "dsAgo2": 8800, "dsAgo3": 7200, "dsPiwi4": 7000},
      {"size": 27, "dsFluc": 24500, "dsAgo2": 15000, "dsAgo3": 11500, "dsPiwi4": 10000},
      {"size": 28, "dsFluc": 17800, "dsAgo2": 13500, "dsAgo3": 10200, "dsPiwi4": 4700},
      {"size": 29, "dsFluc": 3300, "dsAgo2": 4300, "dsAgo3": 4000, "dsPiwi4": 500},
      {"size": 30, "dsFluc": 100, "dsAgo2": 200, "dsAgo3": 300, "dsPiwi4": 100}
     ]},
     "transform": [{"fold": ["dsFluc", "dsAgo2", "dsAgo3", "dsPiwi4"], "as": ["series", "value"]}],
     "mark": {"type": "bar"},
     "encoding": {
      "x": {"field": "size", "type": "ordinal", "scale": {"paddingInner": 0.08, "paddingOuter": 0.04},
            "axis": {"tickBand": "extent", "tickSize": 4, "labelAngle": 0, "labelPadding": 4, "labelFontSize": 10.5, "labelFontWeight": "bold", "title": "Size (nt)", "titleFontSize": 10, "titlePadding": 3}},
      "xOffset": {"field": "series", "type": "nominal", "sort": ["dsFluc", "dsAgo2", "dsAgo3", "dsPiwi4"], "scale": {"paddingInner": 0}},
      "y": {"field": "value", "type": "quantitative", "scale": {"domain": [0, 60000], "nice": false},
            "axis": {"values": [0, 20000, 40000, 60000], "format": "d", "tickSize": 4, "labelPadding": 2, "labelFontSize": 10.5, "labelFontWeight": "bold", "title": "Reads per million", "titleFontSize": 10, "titlePadding": 1}},
      "color": {"field": "series", "type": "nominal", "scale": {"domain": ["dsFluc", "dsAgo2", "dsAgo3", "dsPiwi4"], "range": ["#000000", "#c0625e", "#a5c46c", "#f0a75d"]},
            "legend": {"orient": "none", "legendX": 213, "legendY": 14, "title": null, "symbolType": "square", "symbolSize": 40, "labelFontSize": 9.5, "rowPadding": -1, "padding": 0, "labelOffset": 2}}
     }
    }]
   },
   {"title": {"text": "F", "anchor": "start", "frame": "bounds", "font": "Liberation Sans", "fontSize": 15, "fontWeight": "bold", "color": "#000", "dx": -29, "offset": 4},
    "vconcat": [{
     "width": 261, "height": 111,
     "title": {"text": "Transposon-derived small RNAs", "font": "Liberation Sans", "fontSize": 15, "frame": "bounds", "offset": 8},
     "data": {"values": [
      {"size": 19, "dsFluc-BETA": 200, "dsAgo2-BETA": 100, "dsAgo3-BETA": 100, "dsPiwi4-BETA": 100},
      {"size": 20, "dsFluc-BETA": 1000, "dsAgo2-BETA": 600, "dsAgo3-BETA": 500, "dsPiwi4-BETA": 500},
      {"size": 21, "dsFluc-BETA": 14800, "dsAgo2-BETA": 2800, "dsAgo3-BETA": 9500, "dsPiwi4-BETA": 4500},
      {"size": 22, "dsFluc-BETA": 3300, "dsAgo2-BETA": 2300, "dsAgo3-BETA": 800, "dsPiwi4-BETA": 300},
      {"size": 23, "dsFluc-BETA": 4000, "dsAgo2-BETA": 3700, "dsAgo3-BETA": 800, "dsPiwi4-BETA": 300},
      {"size": 24, "dsFluc-BETA": 7000, "dsAgo2-BETA": 6600, "dsAgo3-BETA": 700, "dsPiwi4-BETA": 500},
      {"size": 25, "dsFluc-BETA": 11700, "dsAgo2-BETA": 11100, "dsAgo3-BETA": 1000, "dsPiwi4-BETA": 900},
      {"size": 26, "dsFluc-BETA": 23000, "dsAgo2-BETA": 21300, "dsAgo3-BETA": 1800, "dsPiwi4-BETA": 2300},
      {"size": 27, "dsFluc-BETA": 35800, "dsAgo2-BETA": 34800, "dsAgo3-BETA": 1800, "dsPiwi4-BETA": 3000},
      {"size": 28, "dsFluc-BETA": 26200, "dsAgo2-BETA": 29700, "dsAgo3-BETA": 900, "dsPiwi4-BETA": 800},
      {"size": 29, "dsFluc-BETA": 5700, "dsAgo2-BETA": 9800, "dsAgo3-BETA": 100, "dsPiwi4-BETA": 100},
      {"size": 30, "dsFluc-BETA": 300, "dsAgo2-BETA": 500, "dsAgo3-BETA": 100, "dsPiwi4-BETA": 100}
     ]},
     "transform": [{"fold": ["dsFluc-BETA", "dsAgo2-BETA", "dsAgo3-BETA", "dsPiwi4-BETA"], "as": ["series", "value"]}],
     "mark": {"type": "bar"},
     "encoding": {
      "x": {"field": "size", "type": "ordinal", "scale": {"paddingInner": 0.08, "paddingOuter": 0.04},
            "axis": {"tickBand": "extent", "tickSize": 4, "labelAngle": 0, "labelPadding": 4, "labelFontSize": 10.5, "labelFontWeight": "bold", "title": "Size (nt)", "titleFontSize": 10, "titlePadding": 3}},
      "xOffset": {"field": "series", "type": "nominal", "sort": ["dsFluc-BETA", "dsAgo2-BETA", "dsAgo3-BETA", "dsPiwi4-BETA"], "scale": {"paddingInner": 0}},
      "y": {"field": "value", "type": "quantitative", "scale": {"domain": [0, 60000], "nice": false},
            "axis": {"values": [0, 20000, 40000, 60000], "format": "d", "tickSize": 4, "labelPadding": 3, "labelFontSize": 10.5, "labelFontWeight": "bold", "title": "Reads per million", "titleFontSize": 10, "titlePadding": 2}},
      "color": {"field": "series", "type": "nominal", "scale": {"domain": ["dsFluc-BETA", "dsAgo2-BETA", "dsAgo3-BETA", "dsPiwi4-BETA"], "range": ["#000000", "#c0625e", "#a5c46c", "#f0a75d"]},
            "legend": {"orient": "none", "legendX": 19, "legendY": 20, "title": null, "symbolType": "square", "symbolSize": 40, "labelFontSize": 10, "rowPadding": 1.5, "padding": 0, "labelOffset": 2}}
     }
    }]
   }
  ]}
 ]}
]
}
